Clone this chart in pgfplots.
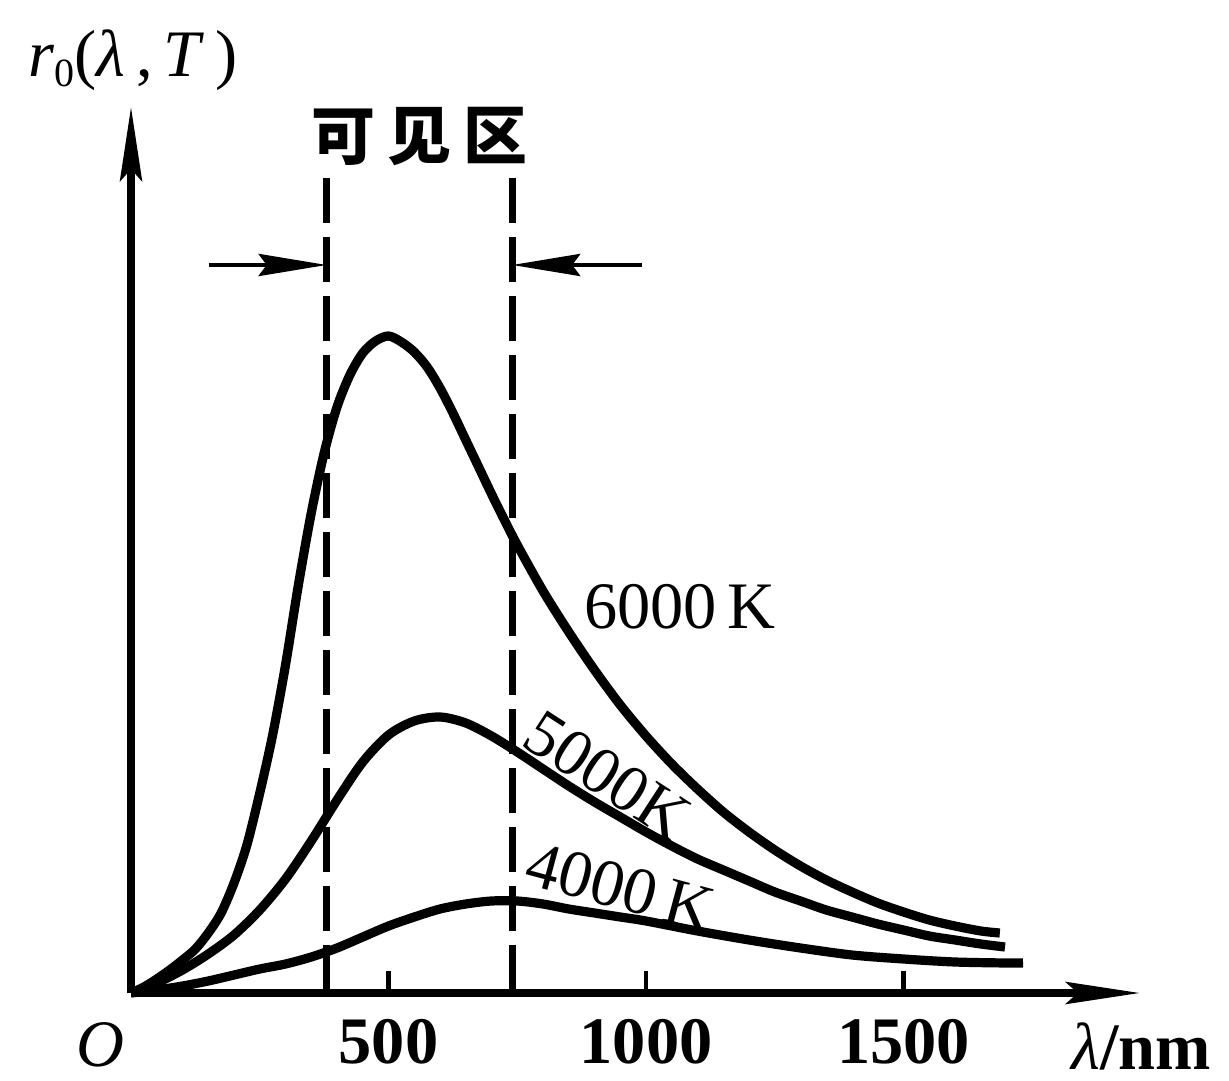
\documentclass[border=0pt]{standalone}
\usepackage{fontspec}
\setmainfont{Liberation Serif}
\newfontfamily\cjk{Noto Sans CJK SC}
\usepackage{pgfplots}
\pgfplotsset{compat=1.18}
\usetikzlibrary{arrows.meta}

\newcommand{\lblfont}{\fontsize{16.6}{20}\selectfont}

\begin{document}
\begin{tikzpicture}
\begin{axis}[
  x=0.12875pt, y=0.25pt,
  xmin=0, xmax=1959, ymin=0, ymax=886,
  axis lines=left,
  axis line style={line width=1.8pt, -{Stealth[length=18.5pt,width=5.5pt,inset=3pt]}},
  clip=false,
  xtick={500,1000,1500},
  xticklabels={500,1000,1500},
  ytick=\empty,
  tick align=inside,
  major tick length=5.5pt,
  tick style={line width=1.1pt, black},
  xticklabel style={font=\lblfont\bfseries, yshift=-3pt},
  every axis plot/.append style={line width=2.3pt, black, no markers, line join=round},
]

% spectral radiance curves (arbitrary units)
% T = 6000 K
\addplot[smooth] coordinates {
  (0,0) (25,6) (50,14) (75,23) (100,33) (125,44) (150,60) (175,80)
  (200,110) (225,148) (250,200) (275,258) (300,328) (325,408) (350,480)
  (375,540) (400,586) (425,618) (450,640) (475,652) (500,657) (525,651)
  (550,641) (575,626) (600,605) (625,580) (650,553) (675,526) (700,499)
  (725,473) (750,448) (800,402) (850,361) (900,323) (950,288) (1000,257)
  (1050,229) (1100,204) (1150,181) (1200,161) (1250,143) (1300,127)
  (1350,113) (1400,101) (1450,90) (1500,81) (1550,73) (1600,67)
  (1650,62) (1687,60)
};
% T = 5000 K
\addplot[smooth] coordinates {
  (0,0) (50,10) (100,23) (150,39) (200,58) (250,83) (300,114) (350,152)
  (400,193) (450,231) (500,258) (550,272) (600,276) (650,270) (700,257)
  (750,241) (800,224) (850,207) (900,191) (950,176) (1000,161) (1050,147)
  (1100,134) (1150,123) (1200,112) (1250,101) (1300,92) (1350,83)
  (1400,76) (1450,69) (1500,63) (1550,57) (1600,53) (1650,49) (1697,46)
};
% T = 4000 K
\addplot[smooth] coordinates {
  (0,0) (50,3) (100,7) (150,12) (200,18) (250,24) (300,29) (350,36)
  (400,45) (450,56) (500,67) (550,76) (600,84) (650,89) (700,92)
  (750,92) (800,89) (850,84) (900,80) (950,76) (1000,72) (1100,62)
  (1200,53) (1300,45) (1400,38) (1500,34) (1600,31) (1700,30) (1732,30)
};

% visible band limits
\addplot[line width=1.8pt, dash pattern=on 11.25pt off 3.5pt] coordinates {(380,815) (380,0)};
\addplot[line width=1.8pt, dash pattern=on 11.25pt off 3.5pt] coordinates {(740,815) (740,0)};

\draw[line width=1.2pt, -{Stealth[length=17pt,width=5.5pt,inset=2pt]}]
  (axis cs:151,728) -- (axis cs:380,728);
\draw[line width=1.2pt, -{Stealth[length=17pt,width=5.5pt,inset=2pt]}]
  (axis cs:992,728) -- (axis cs:740,728);

\node[font=\cjk\bfseries\fontsize{16}{18}\selectfont] at (axis cs:561,856) {可\hspace{3pt}见\hspace{3pt}区};

\node[font=\lblfont] at (axis cs:1066,386) {6000\,K};
\node[font=\lblfont, rotate=-33] at (axis cs:925,218) {5000K};
\node[font=\lblfont, rotate=-15] at (axis cs:950,106) {4000\,K};

\node[font=\lblfont] at (axis cs:4,933)
  {\textit{r}\raisebox{-0.35ex}{\fontsize{10}{12}\selectfont 0}(\textit{λ}\,,\,\textit{T}\,)};
\node[font=\lblfont\itshape] at (axis cs:-60,-52) {O};
\node[font=\lblfont, anchor=east] at (axis cs:2124,-53) {\textit{λ}\textbf{/nm}};

\coordinate (BL) at (axis cs:-254.4,-87);
\coordinate (TR) at (axis cs:2132,993);
\end{axis}
\pgfresetboundingbox
\path[use as bounding box] (BL) rectangle (TR);
\end{tikzpicture}
\end{document}
